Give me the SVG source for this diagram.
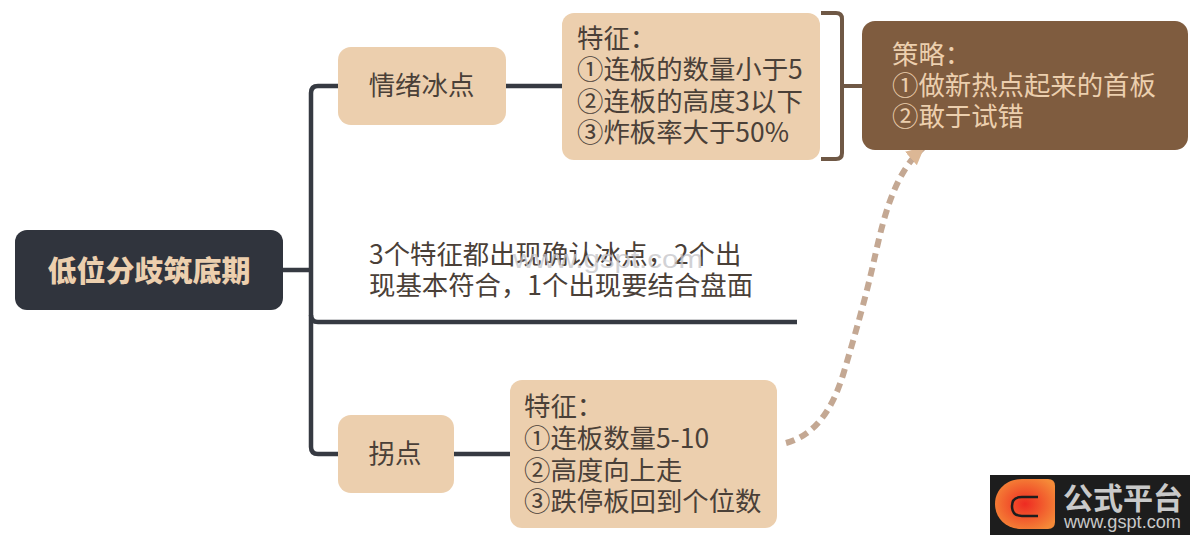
<svg xmlns="http://www.w3.org/2000/svg" width="1200" height="538" viewBox="0 0 1200 538">
<style>
text{font-family:"Noto Sans CJK SC","Liberation Sans",sans-serif}
.k{font-size:26.4px;fill:#4a4038}
.s{font-size:26.4px;fill:#eccfae}
.n{fill:#eccfae}
.c{fill:none;stroke:#363a42;stroke-width:4.5}
.b{fill:none;stroke:#6f5845;stroke-width:4}
</style>
<defs>
<radialGradient id="g" cx="0.5" cy="0.5" r="0.6"><stop offset="0" stop-color="#ee2b22"/><stop offset="1" stop-color="#f58a38"/></radialGradient>
<marker id="a" markerUnits="userSpaceOnUse" markerWidth="22" markerHeight="22" refX="16" refY="9" orient="auto"><path d="M0 0L18 9L0 18Z" fill="#dcb795"/></marker>
</defs>
<rect width="1200" height="538" fill="#fff"/>
<g id="connectors">
<path class="c" d="M283 270H311"/>
<path class="c" d="M338 86H318Q311 86 311 93V447Q311 454 318 454H338"/>
<path class="c" d="M311 315Q311 322 318 322H797"/>
<path class="c" d="M506 86H562"/>
<path class="c" d="M454 454H510"/>
<path class="b" d="M821 13H836Q842 13 842 19V153Q842 159 836 159H821"/>
<path class="b" d="M842 86H862"/>
<path d="M786 443C815 435 832 410 843 375C855 335 865 300 873 265C882 225 892 175 923 148" fill="none" stroke="#c4a893" stroke-width="6" stroke-dasharray="9 6" marker-end="url(#a)"/>
</g>
<g id="root"><rect x="15" y="230" width="268" height="80" rx="12" fill="#30343d"/><text x="149" y="282" text-anchor="middle" font-size="29" font-weight="900" fill="#eccfae">低位分歧筑底期</text></g>
<g id="node-ice"><rect class="n" x="338" y="47" width="168" height="78" rx="13"/><text class="k" x="421.500" y="95" text-anchor="middle">情绪冰点</text></g>
<g id="node-ice-features"><rect class="n" x="562" y="13" width="258" height="147" rx="12"/>
<text class="k" x="577" y="48">特征：</text><text class="k" x="577" y="79">①连板的数量小于5</text><text class="k" x="577" y="111">②连板的高度3以下</text><text class="k" x="577" y="142">③炸板率大于50%</text></g>
<g id="node-strategy"><rect x="862" y="21" width="326" height="129" rx="13" fill="#7f5c3f"/>
<text class="s" x="892" y="64">策略：</text><text class="s" x="892" y="95">①做新热点起来的首板</text><text class="s" x="892" y="126">②敢于试错</text></g>
<g id="note"><text class="k" x="369" y="264">3个特征都出现确认冰点，2个出</text><text class="k" x="369" y="295">现基本符合，1个出现要结合盘面</text>
<text x="513" y="268" font-size="26" fill="#c4c4c8" fill-opacity="0.75" style="font-family:'Liberation Sans',sans-serif" textLength="190" lengthAdjust="spacingAndGlyphs">www.gspt.com</text></g>
<g id="node-turn"><rect class="n" x="338" y="415" width="116" height="78" rx="13"/><text class="k" x="395" y="463" text-anchor="middle">拐点</text></g>
<g id="node-turn-features"><rect class="n" x="510" y="380" width="267" height="148" rx="12"/>
<text class="k" x="524" y="416">特征：</text><text class="k" x="524" y="448">①连板数量5-10</text><text class="k" x="524" y="480">②高度向上走</text><text class="k" x="524" y="511">③跌停板回到个位数</text></g>
<g id="logo"><rect x="990" y="475" width="200" height="60" fill="#1d1d1d"/>
<path d="M1022 479H1048Q1055 479 1055 486V522Q1055 529 1048 529H1022C1006 529 995 518 995 504C995 490 1006 479 1022 479Z" fill="url(#g)"/>
<path d="M1038 497H1022Q1012 497 1012 506Q1012 516 1022 516H1038" fill="none" stroke="#1d1d1d" stroke-width="2.500"/>
<text x="1063" y="509" font-size="30" font-weight="700" fill="#c9c9c9">公式平台</text>
<text x="1064" y="528" font-size="18" fill="#c9c9c9" style="font-family:'Liberation Sans',sans-serif" textLength="117" lengthAdjust="spacingAndGlyphs">www.gspt.com</text></g>
</svg>
